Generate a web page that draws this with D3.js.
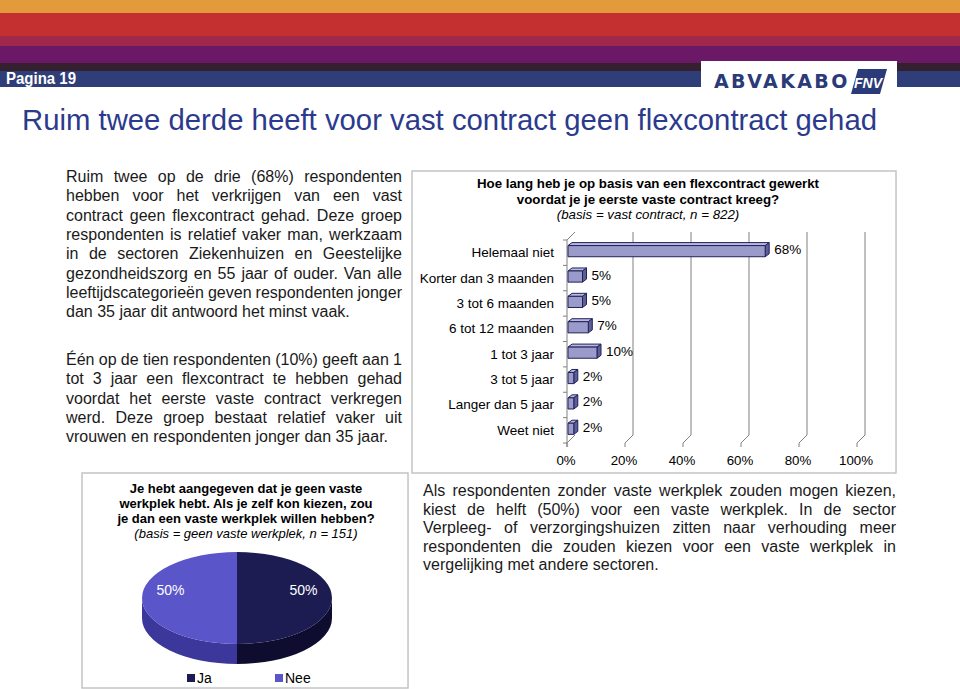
<!DOCTYPE html>
<html><head><meta charset="utf-8">
<script src="https://cdn.jsdelivr.net/npm/d3@7"></script>
<style>body{margin:0;background:#fff}svg{display:block;font-family:"Liberation Sans",Arial,sans-serif}</style>
</head><body><svg id="c" width="960" height="689"></svg>
<script>
// ---- data ----
const barCategories = ["Helemaal niet","Korter dan 3 maanden","3 tot 6 maanden","6 tot 12 maanden","1 tot 3 jaar","3 tot 5 jaar","Langer dan 5 jaar","Weet niet"];
const barValues = [68,5,5,7,10,2,2,2];
const xTicks = [0,20,40,60,80,100];
const pieLabels = ["Ja","Nee"];
const pieValues = [50,50];
const pageTitle = "Ruim twee derde heeft voor vast contract geen flexcontract gehad";
const barTitle = ["Hoe lang heb je op basis van een flexcontract gewerkt","voordat je je eerste vaste contract kreeg?"];
const barSub = "(basis = vast contract, n = 822)";
const pieTitle = ["Je hebt aangegeven dat je geen vaste","werkplek hebt. Als je zelf kon kiezen, zou","je dan een vaste werkplek willen hebben?"];
const pieSub = "(basis = geen vaste werkplek, n = 151)";
const para1 = ["Ruim twee op de drie (68%) respondenten","hebben voor het verkrijgen van een vast","contract geen flexcontract gehad. Deze groep","respondenten is relatief vaker man, werkzaam","in de sectoren Ziekenhuizen en Geestelijke","gezondheidszorg en 55 jaar of ouder. Van alle","leeftijdscategorieën geven respondenten jonger","dan 35 jaar dit antwoord het minst vaak."];
const para2 = ["Één op de tien respondenten (10%) geeft aan 1","tot 3 jaar een flexcontract te hebben gehad","voordat het eerste vaste contract verkregen","werd. Deze groep bestaat relatief vaker uit","vrouwen en respondenten jonger dan 35 jaar."];
const para3 = ["Als respondenten zonder vaste werkplek zouden mogen kiezen,","kiest de helft (50%) voor een vaste werkplek. In de sector","Verpleeg- of verzorgingshuizen zitten naar verhouding meer","respondenten die zouden kiezen voor een vaste werkplek in","vergelijking met andere sectoren."];

const svg = d3.select("#c");

// ---- header ----
const stripes = [[0,13,"#E39A3B"],[13,36,"#C4302F"],[36,46,"#A1284D"],[46,63,"#6B1966"],[63,71,"#35202F"],[71,87,"#2F3E78"]];
svg.selectAll("rect.stripe").data(stripes).join("rect").attr("class","stripe")
  .attr("x",0).attr("width",960).attr("y",d=>d[0]).attr("height",d=>d[1]-d[0]).attr("fill",d=>d[2]);
svg.append("text").attr("x",6).attr("y",84).attr("fill","#fff").attr("textLength",70).attr("lengthAdjust","spacingAndGlyphs")
  .style("font-weight","bold").style("font-size","16px").text("Pagina 19");
svg.append("rect").attr("x",701).attr("y",61).attr("width",196).attr("height",40).attr("fill","#fff");
svg.append("text").attr("x",714).attr("y",88).attr("fill","#2B3A78")
  .style("font-family",'"DejaVu Sans",sans-serif').style("font-weight","bold").style("font-size","19px").style("letter-spacing","2.4px").text("ABVAKABO");
svg.append("path").attr("d","M858,69 L887,69 L880,94 L851,94 Z").attr("fill","#2B3A78");
svg.append("text").attr("x",868).attr("y",88).attr("text-anchor","middle").attr("fill","#fff")
  .style("font-weight","bold").style("font-style","italic").style("font-size","14px").text("FNV");

// ---- page title ----
svg.append("text").attr("x",22).attr("y",130).attr("fill","#2B3A8C").style("font-size","29.3px").text(pageTitle);

// ---- justified paragraphs ----
const FS = 16;
const meas = svg.append("text").style("font-size",FS+"px").attr("x",-1000).attr("y",-100);
function wlen(w){ meas.text(w); return meas.node().getComputedTextLength(); }
function para(lines, x0, x1, y0, lh){
  const g = svg.append("g").style("font-size",FS+"px").attr("fill","#1a1a1a");
  lines.forEach((line,i)=>{
    const t = g.append("text").attr("y", y0 + i*lh);
    if(i===lines.length-1){ t.attr("x",x0).text(line); return; }
    const words = line.split(" ");
    const ws = words.map(wlen);
    const gap = (x1-x0-d3.sum(ws))/(words.length-1);
    let x = x0;
    words.forEach((w,j)=>{ t.append("tspan").attr("x",x).text(w); x += ws[j]+gap; });
  });
}
para(para1, 66, 402, 182, 19.3);
para(para2, 66, 402, 365, 19.3);
para(para3, 423, 896, 496, 18.6);
meas.remove();

// ---- bar chart ----
svg.append("rect").attr("x",412).attr("y",171).attr("width",484).attr("height",302).attr("fill","none").attr("stroke","#c4c4c4").attr("stroke-width",1.5);
const bt = svg.append("g").attr("fill","#000").attr("text-anchor","middle").style("font-size","13.3px");
barTitle.forEach((s,i)=>bt.append("text").attr("x",648).attr("y",188+i*15.5).style("font-weight","bold").text(s));
bt.append("text").attr("x",648).attr("y",219).style("font-style","italic").text(barSub);

const x = d3.scaleLinear().domain([0,100]).range([567,857]);
const y = d3.scaleBand().domain(barCategories).range([240,443]);
const dX = 8, dY = -8, yTop = 240, yBot = 443;
const grid = svg.append("g").attr("stroke","#808080").attr("fill","none").attr("stroke-width",1);
grid.selectAll("path.g").data(xTicks.filter(t=>t>0)).join("path").attr("class","g")
  .attr("d",t=>`M${x(t)+dX},${yTop+dY} L${x(t)+dX},${yBot+dY} L${x(t)},${yBot}`);
grid.append("path").attr("d",`M${x(0)+dX},${yBot+dY} L${x(0)},${yBot}`);
grid.append("path").attr("d",`M${x(0)+dX},${yTop+dY} L${x(0)},${yTop} L${x(0)},${yBot+4}`);
grid.selectAll("path.yt").data(barCategories.concat(["end"])).join("path").attr("class","yt")
  .attr("d",(d,i)=>{const yy = i<barCategories.length? y(d) : yBot; return `M${x(0)-4},${yy} L${x(0)},${yy}`;});
grid.selectAll("path.xt").data(xTicks).join("path").attr("class","xt")
  .attr("d",t=>`M${x(t)},${yBot} L${x(t)},${yBot+4}`);
svg.append("g").style("font-size","13.3px").attr("text-anchor","middle").selectAll("text").data(xTicks).join("text")
  .attr("x",t=>x(t)-1).attr("y",465).text(t=>t+"%");
svg.append("g").style("font-size","13.5px").attr("text-anchor","end").selectAll("text").data(barCategories).join("text")
  .attr("x",554).attr("y",d=>y(d)+y.bandwidth()/2+4.5).text(d=>d);

const bdx = 4, bdy = -3, x0 = x(0)+1;
const bars = svg.append("g").attr("stroke","#22225A").attr("stroke-width",1).attr("stroke-linejoin","round");
barCategories.forEach((c,i)=>{
  const v = barValues[i];
  const x1 = x(v)+1, by = y(c)+y.bandwidth()*0.22, bh = y.bandwidth()*0.44;
  bars.append("path").attr("fill","#B9B9DD").attr("d",`M${x0},${by} L${x0+bdx},${by+bdy} L${x1+bdx},${by+bdy} L${x1},${by} Z`);
  bars.append("path").attr("fill","#5E5E96").attr("d",`M${x1},${by} L${x1+bdx},${by+bdy} L${x1+bdx},${by+bh+bdy} L${x1},${by+bh} Z`);
  bars.append("rect").attr("fill","#9A9ACB").attr("x",x0).attr("y",by).attr("width",x1-x0).attr("height",bh);
  svg.append("text").style("font-size","13.5px").attr("x",x1+bdx+5).attr("y",by+bh/2+3).text(v+"%");
});

// ---- pie chart ----
svg.append("rect").attr("x",82).attr("y",473).attr("width",326).attr("height",215).attr("fill","none").attr("stroke","#c4c4c4").attr("stroke-width",1.5);
const pt = svg.append("g").attr("text-anchor","middle").style("font-size","13px");
pieTitle.forEach((s,i)=>pt.append("text").attr("x",246).attr("y",492.5+i*15).style("font-weight","bold").text(s));
pt.append("text").attr("x",246).attr("y",537.5).style("font-style","italic").text(pieSub);

const pieTop = ["#1C1B52","#5A55C8"], pieSide = ["#0E0D30","#3C379A"];
const cx = 237, cy = 598, rx = 95, ry = 46, depth = 20;
const arcs = d3.pie().sort(null)(pieValues);
const P = (a, dd=0) => [cx + rx*Math.sin(a), cy - ry*Math.cos(a) + dd];
arcs.forEach((a,i)=>{
  const s = Math.max(a.startAngle, Math.PI/2), e = Math.min(a.endAngle, 3*Math.PI/2);
  if(e<=s) return;
  const p0=P(s), p1=P(e), q1=P(e,depth), q0=P(s,depth);
  svg.append("path").attr("fill",pieSide[i])
    .attr("d",`M${p0} A${rx},${ry} 0 0 1 ${p1} L${q1} A${rx},${ry} 0 0 0 ${q0} Z`);
});
const arcGen = d3.arc().innerRadius(0).outerRadius(rx);
const pg = svg.append("g").attr("transform",`translate(${cx},${cy}) scale(1,${ry/rx})`);
pg.selectAll("path").data(arcs).join("path").attr("d",arcGen).attr("fill",(d,i)=>pieTop[i]);
const lblArc = d3.arc().innerRadius(rx*0.7).outerRadius(rx*0.7);
svg.append("g").selectAll("text").data(arcs).join("text")
  .attr("x",d=>cx+lblArc.centroid(d)[0]).attr("y",d=>cy+lblArc.centroid(d)[1]*ry/rx-3)
  .attr("text-anchor","middle").attr("fill","#fff").style("font-size","14px").text(d=>d.value+"%");
const lg = svg.append("g").style("font-size","14px");
pieLabels.forEach((l,i)=>{
  const lx = 187 + i*88;
  lg.append("rect").attr("x",lx).attr("y",674).attr("width",8).attr("height",8).attr("fill",pieTop[i]);
  lg.append("text").attr("x",lx+10).attr("y",683).text(l);
});
</script></body></html>
